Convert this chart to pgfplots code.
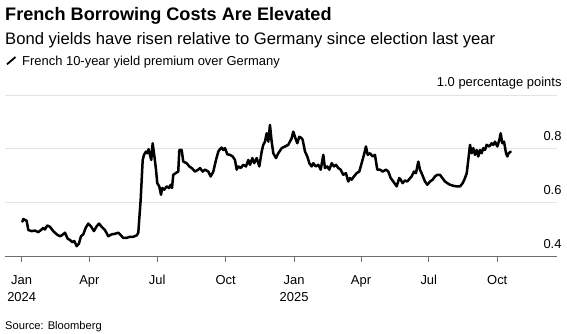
\documentclass[border=0pt]{standalone}
\usepackage{pgfplots}
\pgfplotsset{compat=1.18}
\usepackage{pgfplotstable}
\usepackage{fontspec}
\setmainfont{Liberation Sans}
\definecolor{gridgray}{HTML}{E3E3E3}
\definecolor{axisgray}{HTML}{6E6E6E}

% day = days since 1 Jan 2024, value = percentage points
\pgfplotstableread{
day value
1 0.530
2.2 0.540
6.7 0.533
8.9 0.499
13.4 0.495
17.9 0.497
22.3 0.491
25.9 0.499
29.0 0.507
31.3 0.501
34.4 0.516
38.0 0.511
42.5 0.495
47.0 0.483
51.5 0.476
53.7 0.479
58.2 0.489
61.8 0.467
64.9 0.462
68.0 0.454
70.7 0.458
73.9 0.439
77.0 0.449
79.7 0.476
82.8 0.483
86.0 0.507
89.5 0.523
93.1 0.513
97.1 0.495
100.8 0.513
103.9 0.523
107.5 0.511
111.9 0.499
116.4 0.476
120.9 0.483
125.4 0.485
129.8 0.489
133.4 0.479
136.5 0.470
141.1 0.470
145.5 0.474
150.0 0.474
154.5 0.479
156.7 0.489
159.9 0.612
162.6 0.759
164.3 0.778
167.0 0.790
168.8 0.784
170.6 0.799
172.4 0.778
174.1 0.759
176.0 0.821
177.8 0.784
180.5 0.723
182.2 0.673
184.9 0.661
187.2 0.630
188.9 0.655
191.6 0.649
194.8 0.661
197.9 0.655
200.2 0.667
202.0 0.655
203.7 0.704
206.9 0.710
210.4 0.716
211.8 0.796
215.0 0.796
217.1 0.753
221.7 0.747
225.2 0.735
228.4 0.729
232.9 0.716
237.3 0.723
239.6 0.729
243.2 0.716
246.3 0.723
250.7 0.716
254.0 0.698
257.5 0.716
261.1 0.759
264.2 0.790
265.5 0.796
268.7 0.805
270.9 0.796
273.2 0.803
276.3 0.780
279.9 0.778
283.5 0.772
286.6 0.759
288.9 0.723
291.0 0.735
294.3 0.729
297.8 0.741
301.4 0.735
304.5 0.759
306.8 0.741
309.9 0.766
312.5 0.747
315.8 0.766
319.3 0.735
322.5 0.790
324.6 0.815
326.9 0.827
329.2 0.858
331.4 0.827
333.6 0.889
335.9 0.827
338.1 0.784
341.7 0.766
344.8 0.784
349.4 0.803
353.8 0.809
358.2 0.815
362.8 0.840
364.9 0.864
367.2 0.845
370.3 0.821
373.0 0.845
376.2 0.840
377.6 0.833
380.7 0.790
383.8 0.772
386.5 0.747
389.7 0.735
391.9 0.747
395.1 0.735
398.6 0.741
401.8 0.723
405.3 0.778
407.5 0.729
410.6 0.735
413.3 0.723
416.6 0.747
419.6 0.735
422.3 0.741
425.4 0.729
428.6 0.723
432.1 0.704
435.7 0.710
438.8 0.679
441.1 0.692
443.4 0.686
446.5 0.698
450.1 0.710
453.6 0.716
456.8 0.747
459.9 0.778
462.6 0.809
464.9 0.778
468.0 0.784
471.6 0.772
474.7 0.778
477.8 0.723
481.4 0.723
485.1 0.716
489.5 0.723
492.6 0.716
495.8 0.692
499.3 0.679
503.9 0.661
507.3 0.692
509.2 0.686
511.9 0.673
515.0 0.683
518.1 0.679
520.8 0.688
524.0 0.698
527.1 0.716
529.8 0.710
532.9 0.753
535.2 0.723
538.3 0.704
541.9 0.679
545.0 0.667
548.7 0.679
552.3 0.686
555.4 0.698
558.5 0.704
562.1 0.704
565.2 0.692
568.8 0.679
571.9 0.673
575.5 0.667
580.0 0.663
584.5 0.661
589.0 0.661
592.6 0.673
595.7 0.692
598.0 0.710
600.1 0.759
602.4 0.815
604.7 0.784
606.8 0.803
609.1 0.778
611.4 0.796
613.5 0.772
615.8 0.796
618.1 0.784
620.2 0.803
622.5 0.796
624.8 0.815
628.3 0.809
631.5 0.821
633.7 0.815
636.0 0.827
639.1 0.809
641.8 0.833
643.6 0.858
645.8 0.821
648.1 0.827
650.8 0.784
652.5 0.772
654.4 0.784
657.1 0.790
}\spread

\begin{document}
\begin{tikzpicture}[x=1bp,y=1bp]
\path[use as bounding box] (0,0) rectangle (567,-333);
\node[anchor=base west, inner sep=0] at (5,-20) {\fontsize{18.2}{20}\selectfont\bfseries French Borrowing Costs Are Elevated};
\node[anchor=base west, inner sep=0] at (5,-44.3) {\fontsize{16.7}{18}\selectfont Bond yields have risen relative to Germany since election last year};
\draw[line width=1.8bp, black] (7,-64.3) -- (15.5,-57);
\node[anchor=base west, inner sep=0] at (22,-65.7) {\fontsize{13}{15}\selectfont French 10-year yield premium over Germany};
\node[anchor=base west, inner sep=0] at (5,-329) {\fontsize{11.2}{13}\selectfont Source: Bloomberg};
\begin{axis}[
  at={(5bp,-256.7bp)}, anchor=south west,
  scale only axis, width=552bp, height=161.7bp,
  xmin=-22.4, xmax=719.3, ymin=0.4, ymax=1.0,
  axis x line*=bottom,
  axis y line*=right,
  y axis line style={draw=none},
  x axis line style={draw=axisgray, line width=0.9bp},
  xtick={0,91,182,274,366,456,547,639},
  xticklabels={Jan\\2024,Apr,Jul,Oct,Jan\\2025,Apr,Jul,Oct},
  xticklabel style={align=center, font=\fontsize{13}{17}\selectfont, inner sep=0pt, anchor=north, yshift=-13.3bp},
  x tick style={draw=axisgray, line width=0.9bp},
  tick align=outside,
  major tick length=5bp,
  ytick={0.4,0.6,0.8,1.0},
  yticklabels={0.4,0.6,0.8,1.0 percentage points},
  yticklabel pos=right,
  yticklabel style={font=\fontsize{13}{15}\selectfont, inner sep=0pt, anchor=base east, yshift=8.3bp, xshift=-0.3bp},
  y tick style={draw=none},
  ymajorgrids,
  grid style={draw=gridgray, line width=0.9bp},
  clip=false,
]
\addplot[black, line width=2.5bp, line join=round, line cap=round] table[x=day, y=value] {\spread};
\end{axis}
\end{tikzpicture}
\end{document}
